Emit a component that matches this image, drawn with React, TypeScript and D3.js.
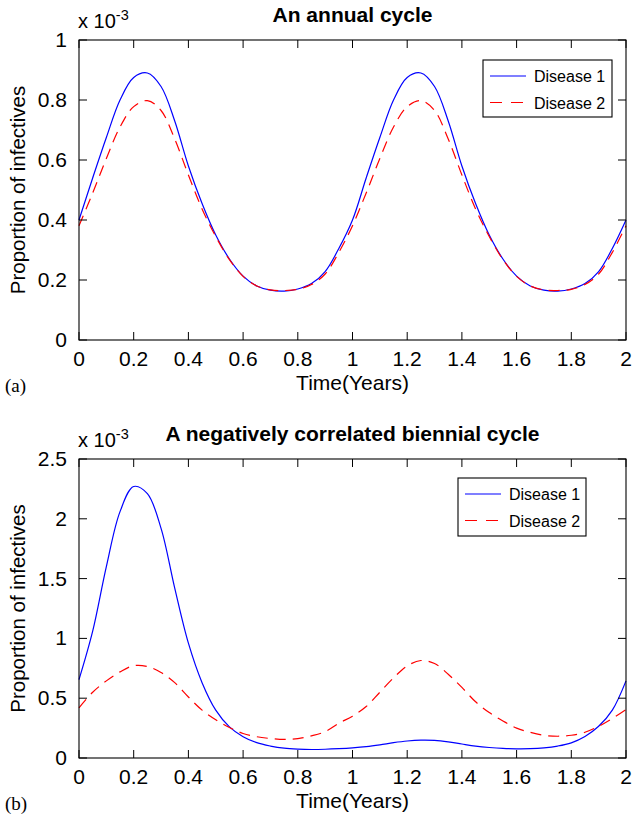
import React from "react";
import * as d3 from "d3";

// ---------- data ----------
const years = [
  0, 0.05, 0.1, 0.15, 0.2, 0.25, 0.3, 0.35, 0.4, 0.45, 0.5, 0.55, 0.6, 0.65, 0.7, 0.75, 0.8, 0.85, 0.9, 0.95,
  1, 1.05, 1.1, 1.15, 1.2, 1.25, 1.3, 1.35, 1.4, 1.45, 1.5, 1.55, 1.6, 1.65, 1.7, 1.75, 1.8, 1.85, 1.9, 1.95, 2,
];

// (a) annual cycle, values in units of 1e-3
const annualDisease1 = [
  0.4, 0.54, 0.675, 0.8, 0.875, 0.89, 0.845, 0.73, 0.58, 0.455, 0.35, 0.27, 0.213, 0.18, 0.166, 0.163, 0.17, 0.188, 0.228, 0.305,
  0.4, 0.54, 0.675, 0.8, 0.875, 0.89, 0.845, 0.73, 0.58, 0.455, 0.35, 0.27, 0.213, 0.18, 0.166, 0.163, 0.17, 0.188, 0.228, 0.305,
  0.4,
];
const annualDisease2 = [
  0.381, 0.49, 0.605, 0.71, 0.778, 0.798, 0.765, 0.67, 0.55, 0.437, 0.345, 0.268, 0.212, 0.18, 0.167, 0.165, 0.169, 0.185, 0.22, 0.292,
  0.381, 0.49, 0.605, 0.71, 0.778, 0.798, 0.765, 0.67, 0.55, 0.437, 0.345, 0.268, 0.212, 0.18, 0.167, 0.165, 0.169, 0.185, 0.22, 0.292,
  0.381,
];

// (b) negatively correlated biennial cycle
const biennialDisease1 = [
  0.655, 1.06, 1.6, 2.06, 2.27, 2.21, 1.92, 1.42, 0.96, 0.63, 0.4, 0.26, 0.178, 0.128, 0.1, 0.082, 0.074, 0.071, 0.073, 0.078,
  0.085, 0.095, 0.11, 0.128, 0.142, 0.149, 0.147, 0.135, 0.117, 0.1, 0.088, 0.08, 0.077, 0.078, 0.085, 0.1, 0.127, 0.18, 0.265, 0.4,
  0.645,
];
const biennialDisease2 = [
  0.42, 0.55, 0.645, 0.72, 0.772, 0.765, 0.715, 0.63, 0.51, 0.4, 0.32, 0.255, 0.205, 0.178, 0.163, 0.155, 0.162, 0.185, 0.22, 0.29,
  0.35, 0.43, 0.55, 0.67, 0.77, 0.815, 0.79, 0.7, 0.59, 0.47, 0.38, 0.31, 0.25, 0.215, 0.19, 0.182, 0.19, 0.215, 0.265, 0.33,
  0.405,
];

const xTicks = [0, 0.2, 0.4, 0.6, 0.8, 1, 1.2, 1.4, 1.6, 1.8, 2];
const yTicksTop = [0, 0.2, 0.4, 0.6, 0.8, 1];
const yTicksBottom = [0, 0.5, 1, 1.5, 2, 2.5];
const seriesNames = ["Disease 1", "Disease 2"];

const SANS = "'Liberation Sans', Arial, Helvetica, sans-serif";
const SERIF = "'Liberation Serif', 'Times New Roman', serif";

type PanelProps = {
  top: number;
  bottom: number;
  yMax: number;
  yTicks: number[];
  title: string;
  tag: string;
  d1: number[];
  d2: number[];
  legend: { x: number; y: number; w: number; h: number };
};

const LEFT = 79;
const RIGHT = 626;
const TICK = 8;
const FS = 21;

function Panel({ top, bottom, yMax, yTicks, title, tag, d1, d2, legend }: PanelProps) {
  const x = d3.scaleLinear().domain([0, 2]).range([LEFT, RIGHT]);
  const y = d3.scaleLinear().domain([0, yMax]).range([bottom, top]);
  const line = d3
    .line<number>()
    .x((_, i) => x(years[i]))
    .y((v) => y(v))
    .curve(d3.curveCatmullRom.alpha(0.5));
  const fmt = (v: number) => String(v);
  const cx = (LEFT + RIGHT) / 2;
  const cy = (top + bottom) / 2;
  return (
    <g>
      <text x={cx} y={top - 18} textAnchor="middle" fontFamily={SANS} fontWeight="bold" fontSize={21}>
        {title}
      </text>
      <text x={LEFT - 1} y={top - 12} fontFamily={SANS} fontSize={20}>
        x 10
        <tspan dy={-8} fontSize={14.5}>
          -3
        </tspan>
      </text>
      {/* curves */}
      <path d={line(d1) || ""} fill="none" stroke="#0000ff" strokeWidth={1.2} />
      <path d={line(d2) || ""} fill="none" stroke="#ff0000" strokeWidth={1.2} strokeDasharray="11,7" />
      {/* box */}
      <rect x={LEFT} y={top} width={RIGHT - LEFT} height={bottom - top} fill="none" stroke="#000" strokeWidth={1.1} />
      {xTicks.map((t) => (
        <g key={"x" + t}>
          <line x1={x(t)} x2={x(t)} y1={bottom} y2={bottom - TICK} stroke="#000" />
          <line x1={x(t)} x2={x(t)} y1={top} y2={top + TICK} stroke="#000" />
          <text x={x(t)} y={bottom + 26} textAnchor="middle" fontFamily={SANS} fontSize={FS}>
            {fmt(t)}
          </text>
        </g>
      ))}
      {yTicks.map((t) => (
        <g key={"y" + t}>
          <line x1={LEFT} x2={LEFT + TICK} y1={y(t)} y2={y(t)} stroke="#000" />
          <line x1={RIGHT} x2={RIGHT - TICK} y1={y(t)} y2={y(t)} stroke="#000" />
          <text x={LEFT - 12} y={y(t) + 7} textAnchor="end" fontFamily={SANS} fontSize={FS}>
            {fmt(t)}
          </text>
        </g>
      ))}
      <text x={cx} y={bottom + 50} textAnchor="middle" fontFamily={SANS} fontSize={FS}>
        Time(Years)
      </text>
      <text
        transform={`translate(25,${cy}) rotate(-90)`}
        textAnchor="middle"
        fontFamily={SANS}
        fontSize={20.5}
      >
        Proportion of infectives
      </text>
      <text x={5} y={bottom + 52} fontFamily={SERIF} fontSize={19}>
        {tag}
      </text>
      {/* legend */}
      <rect x={legend.x} y={legend.y} width={legend.w} height={legend.h} fill="#fff" stroke="#000" strokeWidth={1.1} />
      {seriesNames.map((name, i) => {
        const ry = legend.y + 16 + i * 26.5;
        return (
          <g key={name}>
            <line
              x1={legend.x + 7}
              x2={legend.x + 43}
              y1={ry}
              y2={ry}
              stroke={i === 0 ? "#0000ff" : "#ff0000"}
              strokeWidth={1.2}
              strokeDasharray={i === 0 ? undefined : "12,9"}
            />
            <text x={legend.x + 51} y={ry + 6} fontFamily={SANS} fontSize={16}>
              {name}
            </text>
          </g>
        );
      })}
    </g>
  );
}

export default function App() {
  return (
    <svg
      width={634}
      height={818}
      style={{ position: "absolute", left: 0, top: 0, background: "#fff" }}
    >
      <rect width={634} height={818} fill="#fff" />
      <Panel
        top={40}
        bottom={340}
        yMax={1}
        yTicks={yTicksTop}
        title="An annual cycle"
        tag="(a)"
        d1={annualDisease1}
        d2={annualDisease2}
        legend={{ x: 483, y: 60, w: 129, h: 57 }}
      />
      <Panel
        top={459}
        bottom={758}
        yMax={2.5}
        yTicks={yTicksBottom}
        title="A negatively correlated biennial cycle"
        tag="(b)"
        d1={biennialDisease1}
        d2={biennialDisease2}
        legend={{ x: 458, y: 478, w: 128, h: 58 }}
      />
    </svg>
  );
}
